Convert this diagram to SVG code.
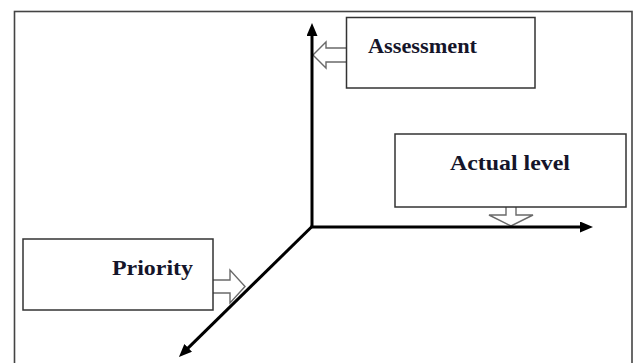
<svg xmlns="http://www.w3.org/2000/svg" width="635" height="363" viewBox="0 0 635 363">
  <style>
    .frame { fill: #ffffff; stroke: #444444; stroke-width: 1.6; }
    .box { fill: #ffffff; stroke: #333333; stroke-width: 1.5; }
    .blk { fill: #ffffff; stroke: #6a6a6a; stroke-width: 1.4; stroke-linejoin: miter; }
    .axis { fill: none; stroke: #000000; stroke-width: 3; }
    .lbl { font-family: "Liberation Serif", "Times New Roman", serif; font-weight: bold; font-size: 22px; fill: #15152a; }
  </style>
  <defs>
    <marker id="ah" markerUnits="userSpaceOnUse" markerWidth="14" markerHeight="11" refX="1" refY="5.5" orient="auto">
      <path d="M0,0 L13,5.5 L0,11 z" fill="#000000"/>
    </marker>
  </defs>

  <rect class="frame" x="14.5" y="11.5" width="617.5" height="360"/>

  <g id="connectors">
    <polygon class="blk" points="313,55 326,42 326,48 348,48 348,62 326,62 326,68"/>
    <polygon class="blk" points="506,205 516,205 516,215 533,215 511,226 489,215 506,215"/>
    <polygon class="blk" points="211,280 230,280 230,270 245,286.5 230,303 230,293 211,293"/>
    <line class="axis" x1="312" y1="227" x2="312" y2="35" marker-end="url(#ah)"/>
    <line class="axis" x1="310.5" y1="227" x2="581" y2="227" marker-end="url(#ah)"/>
    <line class="axis" x1="312.5" y1="226" x2="187.5" y2="348.6" marker-end="url(#ah)"/>
  </g>

  <g id="assessment">
    <rect class="box" x="346.5" y="17.5" width="188.5" height="70.5"/>
    <text class="lbl" x="368" y="53" textLength="109" lengthAdjust="spacingAndGlyphs">Assessment</text>
  </g>

  <g id="actual-level">
    <rect class="box" x="395" y="134" width="231" height="73"/>
    <text class="lbl" x="450" y="170" textLength="120" lengthAdjust="spacingAndGlyphs">Actual level</text>
  </g>

  <g id="priority">
    <rect class="box" x="23" y="239" width="190" height="71"/>
    <text class="lbl" x="112" y="275" textLength="81" lengthAdjust="spacingAndGlyphs">Priority</text>
  </g>
</svg>
